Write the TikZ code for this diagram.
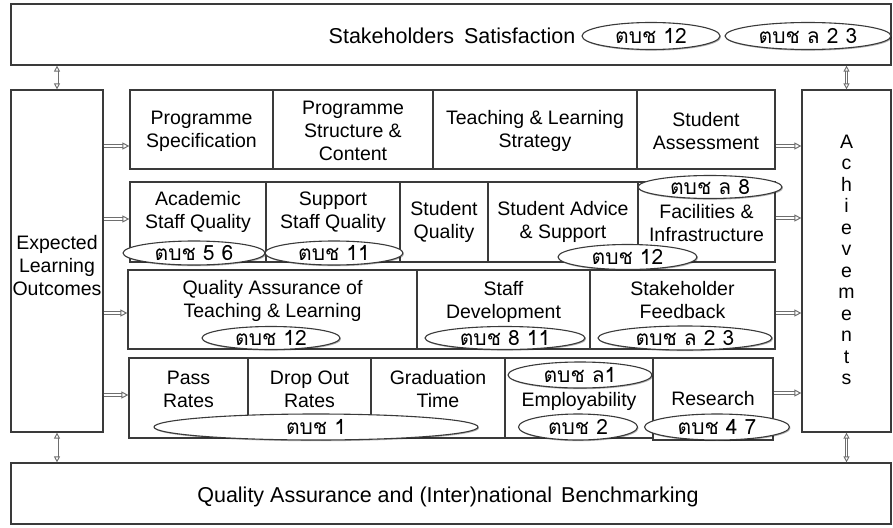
\documentclass[tikz,border=0pt]{standalone}
\usepackage{fontspec}
\setmainfont{Liberation Sans}
\newfontfamily\thaifont[Script=Thai]{Loma}
\usetikzlibrary{shapes.geometric,arrows.meta,shadows}
\definecolor{edge}{HTML}{3A3A3A}
\definecolor{arr}{HTML}{6E6E6E}
\begin{document}
\begin{tikzpicture}[x=1pt,y=-1pt,
  box/.style={draw=edge,line width=1.2pt,fill=white,rectangle,inner sep=0pt,
    drop shadow={shadow xshift=1pt,shadow yshift=-1.2pt,opacity=.3,fill=black}},
  txt/.style={inner sep=0pt,align=center,font=\fontsize{19.5}{23}\selectfont},
  oval/.style={ellipse,draw=edge,line width=1.1pt,fill=white,inner sep=0pt,
    font=\thaifont\fontsize{21}{23}\selectfont,
    drop shadow={shadow xshift=1pt,shadow yshift=-1.2pt,opacity=.3,fill=black}},
  harr/.style={draw=arr,double=white,double distance=1.6pt,line width=1pt,
    -{Triangle[open,length=7pt,width=7pt,line width=1pt]}},
  varr/.style={draw=arr,double=white,double distance=1.2pt,line width=.9pt,
    {Triangle[open,length=6pt,width=6pt,line width=.9pt]}-{Triangle[open,length=6pt,width=6pt,line width=.9pt]}},
]
\useasboundingbox (0,0) rectangle (893,527);

% outer frame boxes
\node[box,minimum width=880pt,minimum height=61pt] (top) at (451,34.5) {};
\node[box,minimum width=880pt,minimum height=61pt] (bot) at (451,493.5) {};
\node[box,minimum width=92pt,minimum height=342pt] (elo) at (57,261) {};
\node[box,minimum width=89pt,minimum height=342pt] (ach) at (846.5,261) {};

% row 1
\node[box,minimum width=143pt,minimum height=79pt] (r1a) at (201.5,129.5) {};
\node[box,minimum width=160pt,minimum height=79pt] (r1b) at (353,129.5) {};
\node[box,minimum width=204pt,minimum height=79pt] (r1c) at (535,129.5) {};
\node[box,minimum width=138pt,minimum height=79pt] (r1d) at (706,129.5) {};
% row 2
\node[box,minimum width=136pt,minimum height=80pt] (r2a) at (198,222) {};
\node[box,minimum width=134pt,minimum height=80pt] (r2b) at (333,222) {};
\node[box,minimum width=88pt,minimum height=80pt] (r2c) at (444,222) {};
\node[box,minimum width=150pt,minimum height=80pt] (r2d) at (563,222) {};
\node[box,minimum width=137pt,minimum height=80pt] (r2e) at (706.5,222) {};
% row 3
\node[box,minimum width=289pt,minimum height=79pt] (r3a) at (272.5,309.5) {};
\node[box,minimum width=173pt,minimum height=79pt] (r3b) at (503.5,309.5) {};
\node[box,minimum width=185pt,minimum height=79pt] (r3c) at (682.5,309.5) {};
% row 4
\node[box,minimum width=119pt,minimum height=80pt] (r4a) at (188.5,398) {};
\node[box,minimum width=123pt,minimum height=80pt] (r4b) at (309.5,398) {};
\node[box,minimum width=134pt,minimum height=80pt] (r4c) at (438,398) {};
\node[box,minimum width=148pt,minimum height=80pt] (r4d) at (579,398) {};
\node[box,minimum width=120pt,minimum height=82pt] (r4e) at (713,399) {};

% texts
\node[txt,font=\fontsize{21.5}{25}\selectfont] (ttop) at (452,36) {Stakeholders\hspace{4pt} Satisfaction};
\node[txt,font=\fontsize{21.5}{25}\selectfont,anchor=base] (tbot) at (448,502) {Quality Assurance and (Inter)national\hspace{3pt} Benchmarking};
\node[txt] (telo) at (57,266) {Expected\\Learning\\Outcomes};
\node[txt,font=\fontsize{19.5}{21.5}\selectfont] (tach) at (846.5,260) {A\\c\\h\\i\\e\\v\\e\\m\\e\\n\\t\\s};

\node[txt] (t1a) at (201.5,131) {Programme\\Specification};
\node[txt] (t1b) at (353,131) {Programme\\Structure \&\\Content};
\node[txt] (t1c) at (535,131) {Teaching \& Learning\\Strategy};
\node[txt] (t1d) at (706,131) {Student\\Assessment};

\node[txt] (t2a) at (198,212) {Academic\\Staff Quality};
\node[txt] (t2b) at (333,212) {Support\\Staff Quality};
\node[txt] (t2c) at (444,222) {Student\\Quality};
\node[txt] (t2d) at (563,222) {Student Advice\\\& Support};
\node[txt] (t2e) at (706.5,223) {Facilities \&\\Infrastructure};

\node[txt] (t3a) at (272.5,301) {Quality Assurance of\\Teaching \& Learning};
\node[txt] (t3b) at (503.5,312) {Staff\\Development\\Activities};
\node[txt] (t3c) at (682.5,300) {Stakeholder\\Feedback};

\node[txt] (t4a) at (188.5,389) {Pass\\Rates};
\node[txt] (t4b) at (309.5,389) {Drop Out\\Rates};
\node[txt] (t4c) at (438,389) {Graduation\\Time};
\node[txt] (t4d) at (579,401) {Employability};
\node[txt] (t4e) at (713,399) {Research};

% ellipses
\node[oval,minimum width=138pt,minimum height=27pt] (e1) at (651,36) {ตบช 12};
\node[oval,minimum width=166pt,minimum height=27pt] (e2) at (808,36) {ตบช ล 2 3};
\node[oval,minimum width=142pt,minimum height=24pt] (e3) at (194,253) {ตบช 5 6};
\node[oval,minimum width=138pt,minimum height=24pt] (e4) at (334,253) {ตบช 11};
\node[oval,minimum width=144pt,minimum height=23pt] (e5) at (710,187) {ตบช ล 8};
\node[oval,minimum width=139pt,minimum height=25pt] (e6) at (627.5,257) {ตบช 12};
\node[oval,minimum width=138pt,minimum height=23pt] (e7) at (271,338) {ตบช 12};
\node[oval,minimum width=160pt,minimum height=23pt] (e8) at (505,338) {ตบช 8 11};
\node[oval,minimum width=174pt,minimum height=24pt] (e9) at (685,338) {ตบช ล 2 3};
\node[oval,minimum width=324pt,minimum height=26pt] (e10) at (316,427) {ตบช 1};
\node[oval,minimum width=144pt,minimum height=26pt] (e11) at (580,375) {ตบช ล1};
\node[oval,minimum width=119pt,minimum height=26pt] (e12) at (578,427) {ตบช 2};
\node[oval,minimum width=145pt,minimum height=26pt] (e13) at (717,427) {ตบช 4 7};

% arrows left
\draw[harr] (elo.east |- 0,146) -- (r1a.west |- 0,146);
\draw[harr] (elo.east |- 0,219) -- (r2a.west |- 0,219);
\draw[harr] (elo.east |- 0,313) -- (r3a.west |- 0,313);
\draw[harr] (elo.east |- 0,395) -- (r4a.west |- 0,395);
% arrows right
\draw[harr] (r1d.east |- 0,146) -- (ach.west |- 0,146);
\draw[harr] (r2e.east |- 0,218) -- (ach.west |- 0,218);
\draw[harr] (r3c.east |- 0,313) -- (ach.west |- 0,313);
\draw[harr] (r4e.east |- 0,393) -- (ach.west |- 0,393);
% vertical arrows
\draw[varr] (top.south -| elo.north) -- (elo.north);
\draw[varr] (top.south -| ach.north) -- (ach.north);
\draw[varr] (elo.south) -- (bot.north -| elo.south);
\draw[varr] (ach.south) -- (bot.north -| ach.south);
\end{tikzpicture}
\end{document}
